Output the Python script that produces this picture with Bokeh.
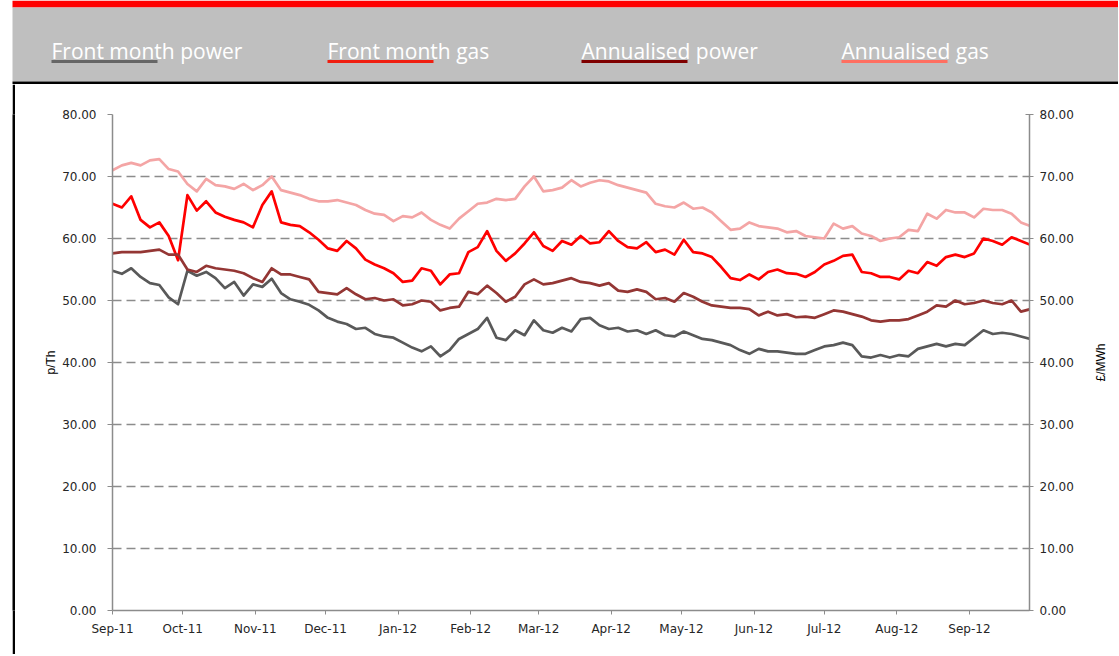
import math
import pandas as pd
from datetime import datetime
from bokeh.plotting import figure
from bokeh.models import (Range1d, LinearAxis, FixedTicker, NumeralTickFormatter,
                          DatetimeTickFormatter, Spacer)
from bokeh.layouts import column, row
from bokeh.core.properties import value
from bokeh.embed import file_html
from bokeh.resources import INLINE

# ---------------- data ----------------
series_names = ["Front month power", "Front month gas", "Annualised power", "Annualised gas"]
line_colors = ["#595959", "#ff0000", "#943634", "#f4a5a5"]
legend_colors = ["#666666", "#f01e10", "#7f0000", "#ff6f61"]

# sample dates every 4 days from 1 Sep 2011
dates = pd.date_range("2011-09-01", periods=99, freq="4D")

front_month_power = [
    54.8, 54.3, 55.2, 53.8, 52.8, 52.5, 50.5, 49.4, 54.8, 54.0,
    54.6, 53.6, 52.0, 53.0, 50.8, 52.6, 52.2, 53.5, 51.2, 50.2,
    49.8, 49.3, 48.4, 47.2, 46.6, 46.2, 45.4, 45.6, 44.6, 44.2,
    44.0, 43.2, 42.4, 41.8, 42.6, 41.0, 42.0, 43.8, 44.6, 45.4,
    47.2, 44.0, 43.6, 45.2, 44.4, 46.8, 45.2, 44.8, 45.6, 45.0,
    47.0, 47.2, 46.0, 45.4, 45.6, 45.0, 45.2, 44.6, 45.2, 44.4,
    44.2, 45.0, 44.4, 43.8, 43.6, 43.2, 42.8, 42.0, 41.4, 42.2,
    41.8, 41.8, 41.6, 41.4, 41.4, 42.0, 42.6, 42.8, 43.2, 42.8,
    41.0, 40.8, 41.2, 40.8, 41.2, 41.0, 42.2, 42.6, 43.0, 42.6,
    43.0, 42.8, 44.0, 45.2, 44.6, 44.8, 44.6, 44.2, 43.8]

front_month_gas = [
    65.6, 65.0, 66.8, 63.0, 61.8, 62.6, 60.4, 56.5, 67.0, 64.5,
    66.0, 64.2, 63.5, 63.0, 62.6, 61.8, 65.4, 67.6, 62.6, 62.2,
    62.0, 61.0, 59.8, 58.4, 58.0, 59.6, 58.4, 56.6, 55.8, 55.2,
    54.4, 53.0, 53.2, 55.2, 54.8, 52.6, 54.2, 54.4, 57.8, 58.6,
    61.2, 58.0, 56.4, 57.6, 59.2, 61.0, 58.8, 58.0, 59.6, 59.0,
    60.4, 59.2, 59.4, 61.2, 59.6, 58.6, 58.4, 59.4, 57.8, 58.2,
    57.4, 59.8, 57.8, 57.6, 57.0, 55.4, 53.6, 53.3, 54.2, 53.4,
    54.6, 55.0, 54.4, 54.3, 53.8, 54.6, 55.8, 56.4, 57.2, 57.4,
    54.6, 54.4, 53.8, 53.8, 53.4, 54.8, 54.4, 56.2, 55.6, 57.0,
    57.4, 57.0, 57.6, 60.0, 59.6, 59.0, 60.2, 59.6, 59.0]

annualised_power = [
    57.6, 57.8, 57.8, 57.8, 58.0, 58.2, 57.4, 57.4, 55.0, 54.6,
    55.6, 55.2, 55.0, 54.8, 54.4, 53.6, 53.0, 55.2, 54.2, 54.2,
    53.8, 53.4, 51.4, 51.2, 51.0, 52.0, 51.0, 50.2, 50.4, 50.0,
    50.2, 49.2, 49.4, 50.0, 49.8, 48.4, 48.8, 49.0, 51.4, 51.0,
    52.4, 51.2, 49.8, 50.6, 52.6, 53.4, 52.6, 52.8, 53.2, 53.6,
    53.0, 52.8, 52.4, 52.8, 51.6, 51.4, 51.8, 51.4, 50.2, 50.4,
    49.8, 51.2, 50.6, 49.8, 49.2, 49.0, 48.8, 48.8, 48.6, 47.6,
    48.2, 47.6, 47.8, 47.3, 47.4, 47.2, 47.8, 48.4, 48.2, 47.8,
    47.4, 46.8, 46.6, 46.8, 46.8, 47.0, 47.6, 48.2, 49.2, 49.0,
    50.0, 49.4, 49.6, 50.0, 49.6, 49.4, 50.0, 48.2, 48.6]

annualised_gas = [
    71.0, 71.8, 72.2, 71.8, 72.6, 72.8, 71.2, 70.8, 68.8, 67.6,
    69.6, 68.6, 68.4, 68.0, 68.8, 67.8, 68.6, 70.0, 67.8, 67.4,
    67.0, 66.4, 66.0, 66.0, 66.2, 65.8, 65.4, 64.6, 64.0, 63.8,
    62.8, 63.6, 63.4, 64.2, 63.0, 62.2, 61.6, 63.2, 64.4, 65.6,
    65.8, 66.4, 66.2, 66.4, 68.4, 70.0, 67.6, 67.8, 68.2, 69.4,
    68.4, 69.0, 69.4, 69.2, 68.6, 68.2, 67.8, 67.4, 65.6, 65.2,
    65.0, 65.8, 64.8, 65.0, 64.2, 62.8, 61.4, 61.6, 62.6, 62.0,
    61.8, 61.6, 61.0, 61.2, 60.4, 60.2, 60.0, 62.4, 61.6, 62.0,
    60.8, 60.4, 59.6, 60.0, 60.2, 61.4, 61.2, 64.0, 63.2, 64.6,
    64.2, 64.2, 63.4, 64.8, 64.6, 64.6, 64.0, 62.6, 62.0]

y_ticks = [0, 10, 20, 30, 40, 50, 60, 70, 80]
month_ticks = ["2011-09-01", "2011-10-01", "2011-11-01", "2011-12-01", "2012-01-01",
               "2012-02-01", "2012-03-01", "2012-04-01", "2012-05-01", "2012-06-01",
               "2012-07-01", "2012-08-01", "2012-09-01"]

all_series = [front_month_power, front_month_gas, annualised_power, annualised_gas]


def blank_fig(w, h, **kw):
    f = figure(width=w, height=h, toolbar_location=None, output_backend="svg",
               x_axis_location=None, y_axis_location=None, **kw)
    f.grid.visible = False
    f.outline_line_color = None
    f.background_fill_color = "white"
    f.border_fill_color = "white"
    return f


TOTAL_W = 1118
HH = 84
MH = 570
BORDER_TOP = 30
BORDER_BOTTOM = MH - 30 - 496

# ---------------- header (legend band) ----------------
hdr = blank_fig(TOTAL_W, HH, x_range=Range1d(0, TOTAL_W), y_range=Range1d(HH, 0), min_border=0)
hdr.quad(left=12, right=TOTAL_W, top=0, bottom=7, fill_color="#ff0000", line_color=None)
hdr.quad(left=12, right=TOTAL_W, top=7, bottom=81, fill_color="#bfbfbf", line_color=None)
hdr.quad(left=12, right=TOTAL_W, top=81, bottom=84, fill_color="#000000", line_color=None)

legend_x = [51, 327, 581, 841]
hdr.text(x=legend_x, y=[50] * 4, text=series_names, text_color="white",
         text_font=value("Open Sans"), text_font_size="21px",
         text_baseline="alphabetic", text_align="left")
hdr.segment(x0=legend_x, y0=[61] * 4, x1=[x + 106 for x in legend_x], y1=[61] * 4,
            line_color=legend_colors, line_width=3)

# ---------------- left black border strip ----------------
strip = blank_fig(3, MH, x_range=Range1d(0, 1), y_range=Range1d(0, 1),
                  min_border_left=0, min_border_right=0,
                  min_border_top=BORDER_TOP, min_border_bottom=BORDER_BOTTOM)
strip.background_fill_color = "black"
strip.border_fill_color = "black"

# ---------------- main chart ----------------
MAIN_W = 1070
p = figure(width=MAIN_W, height=MH, x_axis_type="datetime",
           x_range=Range1d(start=datetime(2011, 9, 1), end=datetime(2012, 9, 26, 16)),
           y_range=Range1d(0, 80), toolbar_location=None, output_backend="svg",
           min_border_left=97, min_border_right=MAIN_W - 97 - 917,
           min_border_top=BORDER_TOP, min_border_bottom=BORDER_BOTTOM)
p.outline_line_color = None
p.background_fill_color = "white"
p.border_fill_color = "white"

tick_color = "#262626"
axis_gray = "#8c8c8c"

p.xgrid.visible = False
p.ygrid.ticker = FixedTicker(ticks=y_ticks[1:])
p.ygrid.grid_line_color = axis_gray
p.ygrid.grid_line_dash = "9 5"
p.ygrid.grid_line_width = 1.5

xa = p.xaxis[0]
xa.ticker = FixedTicker(ticks=[pd.Timestamp(t).value / 1e6 for t in month_ticks])
fmt = "%b-%y"
xa.formatter = DatetimeTickFormatter(days=fmt, months=fmt, years=fmt, hours=fmt,
                                     minutes=fmt, seconds=fmt, milliseconds=fmt, microseconds=fmt)
xa.axis_line_color = axis_gray
xa.axis_line_width = 1.5
xa.major_tick_line_color = axis_gray
xa.major_tick_out = 4
xa.major_tick_in = 0
xa.minor_tick_line_color = None
xa.major_label_standoff = 7
xa.major_label_text_font = "DejaVu Sans"
xa.major_label_text_font_size = "12px"
xa.major_label_text_color = tick_color

ya = p.yaxis[0]
ya.ticker = FixedTicker(ticks=y_ticks)
ya.formatter = NumeralTickFormatter(format="0.00")
ya.axis_line_color = axis_gray
ya.axis_line_width = 1.5
ya.major_tick_line_color = axis_gray
ya.major_tick_out = 5
ya.major_tick_in = 0
ya.minor_tick_line_color = None
ya.major_label_standoff = 11
ya.major_label_text_font = "DejaVu Sans"
ya.major_label_text_font_size = "12px"
ya.major_label_text_color = tick_color
ya.axis_label = "p/Th"
ya.axis_label_text_font = "Liberation Sans"
ya.axis_label_text_font_size = "12px"
ya.axis_label_text_font_style = "normal"
ya.axis_label_text_color = "black"
ya.axis_label_standoff = 1

ra = LinearAxis(ticker=FixedTicker(ticks=y_ticks), formatter=NumeralTickFormatter(format="0.00"))
ra.axis_line_color = axis_gray
ra.axis_line_width = 1.5
ra.major_tick_line_color = axis_gray
ra.major_tick_out = 4
ra.major_tick_in = 4
ra.minor_tick_line_color = None
ra.major_label_standoff = 6
ra.major_label_text_font = "DejaVu Sans"
ra.major_label_text_font_size = "12px"
ra.major_label_text_color = tick_color
p.add_layout(ra, "right")

for vals, col in zip(all_series, line_colors):
    p.line(dates, vals, line_color=col, line_width=2.7, line_join="round")

# ---------------- right axis title strip ----------------
RW = TOTAL_W - 15 - MAIN_W
rfig = blank_fig(RW, MH, x_range=Range1d(0, RW), y_range=Range1d(0, 80),
                 min_border_left=0, min_border_right=0,
                 min_border_top=BORDER_TOP, min_border_bottom=BORDER_BOTTOM)
rfig.text(x=[1100 - 15 - MAIN_W], y=[40], text=["£/MWh"], angle=math.pi / 2,
          text_font=value("Liberation Sans"), text_font_size="12px", text_color="black",
          text_align="center", text_baseline="middle")

layout = column(hdr, row(Spacer(width=12, height=MH), strip, p, rfig, spacing=0), spacing=0)

open("out.html", "w").write(file_html(layout, INLINE))
